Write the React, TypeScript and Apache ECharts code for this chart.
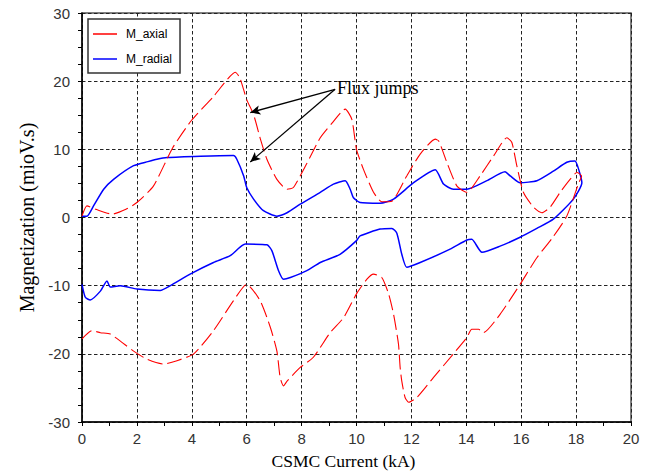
import React, { useEffect, useRef } from "react";
import * as echarts from "echarts";

const xMin = 0;
const xMax = 20;
const xStep = 2;
const yMin = -30;
const yMax = 30;
const yStep = 10;

const seriesNames = ["M_axial", "M_radial"];

// M_axial: upper branch left->right, then lower branch right->left
const axialX = [
  0, 0.18, 0.5, 1.1, 1.6, 2.0, 2.6, 3.3, 4.0, 4.8, 5.3, 5.58, 5.75, 6.0, 6.25, 6.5, 6.74, 7.1, 7.47, 7.7,
  8.2, 8.68, 9.1, 9.59, 9.83, 10.0, 10.25, 10.62, 10.92, 11.29, 11.83, 12.32, 12.87, 13.0, 13.29, 13.66,
  14.02, 14.5, 14.99, 15.48, 15.66, 15.84, 16.08, 16.45, 16.75, 17.05, 17.42, 17.78, 18.03, 18.2, 18.08,
  17.66, 17.17, 16.57, 15.96, 15.23, 14.62, 14.45, 14.2, 14.02, 13.53, 12.8, 12.2, 11.9, 11.77, 11.65,
  11.59, 11.53, 11.35, 11.17, 10.92, 10.62, 10.38, 10.0, 9.53, 9.04, 8.43, 7.95, 7.47, 7.34, 7.22, 7.1,
  6.86, 6.49, 6.0, 5.52, 4.79, 4.07, 3.46, 2.97, 2.37, 1.88, 1.03, 0.67, 0.36, 0,
];
const axialY = [
  0.2, 1.7, 1.2, 0.5, 1.2, 2.2, 4.6, 10.2, 14.3, 17.8, 20.3, 21.3, 20.5, 17.3, 15.1, 11.5, 8.5, 5.6, 4.15, 4.4,
  8.0, 11.7, 13.8, 15.9, 14.4, 10.0, 7.1, 3.7, 2.3, 2.4, 6.1, 9.3, 11.5, 11.2, 8.1, 4.6,
  3.7, 6.1, 9.0, 11.7, 11.0, 7.6, 3.7, 1.5, 0.7, 1.5, 3.7, 5.6, 6.6, 6.1, 4.9,
  0.2, -2.8, -5.9, -9.8, -14.2, -16.9, -16.4, -16.4, -17.6, -20.0, -23.5, -26.4, -27.1, -26.4, -24.0,
  -22.0, -18.6, -14.2, -11.2, -8.8, -8.3, -9.05, -11.2, -14.7, -16.9, -20.5, -22.0, -24.0, -24.7, -23.5, -19.6,
  -16.1, -12.2, -9.8, -12.2, -16.6, -20.0, -21.0, -21.5, -20.8, -19.6, -17.1, -16.9, -16.6, -17.8,
];

// M_radial: upper branch left->right, then lower branch right->left
const radialX = [
  0, 0.18, 0.42, 0.79, 1.15, 1.88, 2.4, 2.73, 3.1, 4.31, 5.52, 5.64, 5.89, 6.0, 6.25, 6.61, 7.1, 7.47, 7.95,
  8.68, 9.16, 9.59, 9.77, 9.89, 10.13, 10.86, 11.35, 12.08, 12.87, 13.17, 13.53, 14.02, 14.75, 15.41, 15.6,
  15.96, 16.57, 17.17, 17.66, 17.96, 18.09, 18.21, 17.9, 17.17, 16.57, 15.96, 15.23, 14.57, 14.2, 14.02,
  13.41, 12.32, 11.83, 11.65, 11.47, 11.29, 10.86, 10.13, 10.0, 9.4, 8.68, 8.19, 7.59, 7.34, 7.16, 6.92,
  6.74, 5.95, 5.4, 4.79, 3.94, 3.22, 2.85, 2.0, 1.39, 1.03, 0.91, 0.67, 0.3, 0.12, 0,
];
const radialY = [
  0.2, 0.2, 1.7, 4.15, 5.6, 7.6, 8.2, 8.55, 8.8, 9.0, 9.1, 8.55, 6.1, 4.4, 2.7, 1.0, 0.2, 0.7, 1.95,
  3.7, 4.9, 5.4, 4.15, 2.9, 2.2, 2.1, 2.7, 5.1, 7.0, 4.9, 4.15, 4.15, 5.4, 6.7, 6.1,
  5.1, 5.4, 6.8, 8.1, 8.3, 7.1, 5.1, 2.7, -0.25, -1.6, -2.9, -4.2, -5.1, -3.2, -3.3,
  -4.65, -6.6, -7.3, -5.4, -2.3, -1.6, -1.7, -2.7, -3.4, -5.4, -6.6, -7.8, -8.8, -9.05, -7.8, -4.9,
  -4.0, -3.9, -5.6, -6.6, -8.3, -10.0, -10.7, -10.5, -10.0, -10.2, -9.3, -10.8, -12.1, -11.7, -9.8,
];

const annotationText = "Flux jumps";
const arrowStart = [9.22, 18.8];
const arrowEnds = [
  [6.13, 15.4],
  [6.13, 8.15],
];

const zip = (xs: number[], ys: number[]) => xs.map((x, i) => [x, ys[i]]);

export default function App() {
  const ref = useRef<HTMLDivElement>(null);
  useEffect(() => {
    if (!ref.current) return;
    const chart = echarts.init(ref.current, null, { renderer: "svg" });
    const gridDash = { color: "#222", width: 1, type: [3.5, 2.5] as number[] };
    const labelFont = { fontFamily: "Liberation Sans", fontSize: 15, color: "#333" };
    chart.setOption({
      animation: false,
      backgroundColor: "#fff",
      grid: {
        left: 82,
        top: 13,
        right: 20,
        bottom: 52,
        show: true,
        borderColor: "#555",
        borderWidth: 1.5,
        backgroundColor: "#fff",
      },
      legend: {
        data: seriesNames.map((n) => ({ name: n, icon: "rect" })),
        orient: "vertical",
        left: 88,
        top: 19,
        backgroundColor: "#fff",
        borderColor: "#333",
        borderWidth: 1.5,
        borderRadius: 0,
        padding: [8, 8, 7, 5],
        itemWidth: 24,
        itemHeight: 1.5,
        itemGap: 11,
        textStyle: {
          fontFamily: "Liberation Sans",
          fontSize: 12,
          lineHeight: 14,
          color: "#000",
          padding: [0, 0, 0, 4],
        },
      },
      xAxis: {
        type: "value",
        min: xMin,
        max: xMax,
        interval: xStep,
        name: "CSMC Current (kA)",
        nameLocation: "middle",
        nameGap: 30,
        nameTextStyle: {
          fontFamily: "Liberation Serif",
          fontSize: 17.5,
          color: "#000",
          padding: [0, 26, 0, 0],
        },
        axisLine: { show: true, onZero: false, lineStyle: { color: "#000", width: 1.5 } },
        axisTick: { show: true, length: 4, lineStyle: { color: "#000" } },
        minorTick: { show: true, splitNumber: 2, length: 4, lineStyle: { color: "#000" } },
        axisLabel: { ...labelFont, margin: 9 },
        splitLine: { show: true, lineStyle: gridDash },
      },
      yAxis: {
        type: "value",
        min: yMin,
        max: yMax,
        interval: yStep,
        name: "Magnetization (mioV.s)",
        nameLocation: "middle",
        nameGap: 44,
        nameTextStyle: { fontFamily: "Liberation Serif", fontSize: 20, color: "#000" },
        axisLine: { show: true, onZero: false, lineStyle: { color: "#000", width: 1.5 } },
        axisTick: { show: true, length: 4, lineStyle: { color: "#000" } },
        minorTick: { show: true, splitNumber: 4, length: 4, lineStyle: { color: "#000" } },
        axisLabel: { ...labelFont, margin: 12 },
        splitLine: { show: true, lineStyle: gridDash },
      },
      series: [
        {
          name: seriesNames[0],
          type: "line",
          data: zip(axialX, axialY),
          showSymbol: false,
          symbol: "none",
          smooth: 0.2,
          lineStyle: { color: "#ff0000", width: 1.1, type: [15, 5] },
          itemStyle: { color: "#ff0000" },
          z: 3,
        },
        {
          name: seriesNames[1],
          type: "line",
          data: zip(radialX, radialY),
          showSymbol: false,
          symbol: "none",
          smooth: 0.2,
          lineStyle: { color: "#0000ff", width: 1.5, type: "solid" },
          itemStyle: { color: "#0000ff" },
          z: 2,
          markLine: {
            silent: true,
            symbol: ["none", "arrow"],
            symbolSize: [7, 10],
            label: { show: false },
            lineStyle: { color: "#000", width: 1.3, type: "solid" },
            data: arrowEnds.map((e) => [{ coord: arrowStart }, { coord: e }]),
          },
        },
      ],
      graphic: [
        {
          type: "text",
          left: 337,
          top: 79,
          style: {
            text: annotationText,
            fontFamily: "Liberation Serif",
            fontSize: 18,
            fill: "#000",
          },
          z: 10,
        },
      ],
    });
    return () => chart.dispose();
  }, []);
  return (
    <div
      ref={ref}
      style={{ position: "fixed", left: 0, top: 0, width: 651, height: 475, background: "#fff" }}
    />
  );
}
